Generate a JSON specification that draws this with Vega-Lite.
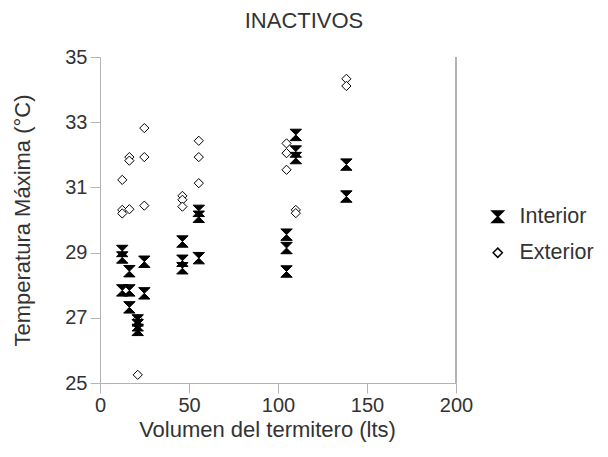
{
  "$schema": "https://vega.github.io/schema/vega-lite/v6.json",
  "width": 356,
  "height": 326,
  "autosize": "none",
  "padding": {"left": 100, "top": 57, "right": 152, "bottom": 74},
  "background": "white",
  "config": {
    "view": {"stroke": null},
    "font": "Liberation Sans",
    "axis": {
      "grid": false,
      "domainColor": "#b3b3b3",
      "tickColor": "#b3b3b3",
      "tickSize": 10,
      "labelFontSize": 20,
      "labelColor": "#333333",
      "labelFlush": false,
      "titleFontSize": 22,
      "titleFontWeight": "normal",
      "titleColor": "#333333",
      "labelFont": "Liberation Sans",
      "titleFont": "Liberation Sans"
    },
    "legend": {
      "labelFont": "Liberation Sans",
      "labelFontSize": 21.5,
      "labelColor": "#333333"
    }
  },
  "title": {
    "text": "INACTIVOS",
    "fontSize": 22,
    "fontWeight": "normal",
    "color": "#333333",
    "font": "Liberation Sans",
    "anchor": "middle",
    "dx": 26,
    "offset": 14
  },
  "data": {
    "values": [
      {"v": 12.5, "t": 31.23, "serie": "Exterior"},
      {"v": 12.5, "t": 30.31, "serie": "Exterior"},
      {"v": 12.5, "t": 30.2, "serie": "Exterior"},
      {"v": 16.5, "t": 31.93, "serie": "Exterior"},
      {"v": 16.5, "t": 31.82, "serie": "Exterior"},
      {"v": 16.5, "t": 30.33, "serie": "Exterior"},
      {"v": 21.2, "t": 26.96, "serie": "Exterior"},
      {"v": 21.2, "t": 25.25, "serie": "Exterior"},
      {"v": 24.9, "t": 32.82, "serie": "Exterior"},
      {"v": 24.9, "t": 31.93, "serie": "Exterior"},
      {"v": 24.9, "t": 30.44, "serie": "Exterior"},
      {"v": 46.3, "t": 30.74, "serie": "Exterior"},
      {"v": 46.3, "t": 30.62, "serie": "Exterior"},
      {"v": 46.3, "t": 30.41, "serie": "Exterior"},
      {"v": 55.5, "t": 32.43, "serie": "Exterior"},
      {"v": 55.5, "t": 31.93, "serie": "Exterior"},
      {"v": 55.5, "t": 31.13, "serie": "Exterior"},
      {"v": 104.8, "t": 32.35, "serie": "Exterior"},
      {"v": 104.8, "t": 32.05, "serie": "Exterior"},
      {"v": 104.8, "t": 31.54, "serie": "Exterior"},
      {"v": 110, "t": 30.31, "serie": "Exterior"},
      {"v": 110, "t": 30.21, "serie": "Exterior"},
      {"v": 138.4, "t": 34.33, "serie": "Exterior"},
      {"v": 138.4, "t": 34.11, "serie": "Exterior"},
      {"v": 12.5, "t": 29.05, "serie": "Interior"},
      {"v": 12.5, "t": 28.85, "serie": "Interior"},
      {"v": 12.5, "t": 27.84, "serie": "Interior"},
      {"v": 16.5, "t": 28.43, "serie": "Interior"},
      {"v": 16.5, "t": 27.84, "serie": "Interior"},
      {"v": 16.5, "t": 27.32, "serie": "Interior"},
      {"v": 21.2, "t": 26.92, "serie": "Interior"},
      {"v": 21.2, "t": 26.77, "serie": "Interior"},
      {"v": 21.2, "t": 26.63, "serie": "Interior"},
      {"v": 24.9, "t": 28.72, "serie": "Interior"},
      {"v": 24.9, "t": 27.75, "serie": "Interior"},
      {"v": 46.3, "t": 29.34, "serie": "Interior"},
      {"v": 46.3, "t": 28.75, "serie": "Interior"},
      {"v": 46.3, "t": 28.52, "serie": "Interior"},
      {"v": 55.5, "t": 30.28, "serie": "Interior"},
      {"v": 55.5, "t": 30.1, "serie": "Interior"},
      {"v": 55.5, "t": 28.83, "serie": "Interior"},
      {"v": 104.8, "t": 29.55, "serie": "Interior"},
      {"v": 104.8, "t": 29.14, "serie": "Interior"},
      {"v": 104.8, "t": 28.42, "serie": "Interior"},
      {"v": 110, "t": 32.61, "serie": "Interior"},
      {"v": 110, "t": 32.1, "serie": "Interior"},
      {"v": 110, "t": 31.9, "serie": "Interior"},
      {"v": 138.4, "t": 31.7, "serie": "Interior"},
      {"v": 138.4, "t": 30.72, "serie": "Interior"}
    ]
  },
  "layer": [
    {
      "mark": {"type": "rule", "color": "#b3b3b3", "strokeWidth": 1},
      "encoding": {
        "x": {"datum": 200, "type": "quantitative", "scale": {"domain": [0, 200], "nice": false}}
      }
    },
    {
      "mark": {"type": "point", "filled": true, "stroke": "black", "strokeWidth": 1, "opacity": 1},
      "encoding": {
        "x": {
          "field": "v",
          "type": "quantitative",
          "title": "Volumen del termitero (lts)",
          "scale": {"domain": [0, 200], "nice": false},
          "axis": {"values": [0, 50, 100, 150, 200], "labelPadding": 2, "titlePadding": 4, "titleX": 167, "titleAlign": "center"}
        },
        "y": {
          "field": "t",
          "type": "quantitative",
          "title": "Temperatura Máxima (°C)",
          "scale": {"domain": [25, 35], "nice": false, "zero": false},
          "axis": {"values": [25, 27, 29, 31, 33, 35], "labelPadding": 3, "titlePadding": 30}
        },
        "shape": {
          "field": "serie",
          "type": "nominal",
          "title": null,
          "scale": {
            "domain": ["Interior", "Exterior"],
            "range": ["M-1,-1L1,-1L0,0L1,1L-1,1L0,0Z", "diamond"]
          },
          "legend": {
            "orient": "none",
            "legendX": 387,
            "legendY": 149,
            "padding": 0,
            "rowPadding": 13,
            "labelOffset": 11
          }
        },
        "fill": {
          "field": "serie",
          "type": "nominal",
          "title": null,
          "scale": {"domain": ["Interior", "Exterior"], "range": ["black", "white"]}
        },
        "size": {
          "field": "serie",
          "type": "nominal",
          "title": null,
          "scale": {"domain": ["Interior", "Exterior"], "range": [130, 85]}
        }
      }
    }
  ]
}
